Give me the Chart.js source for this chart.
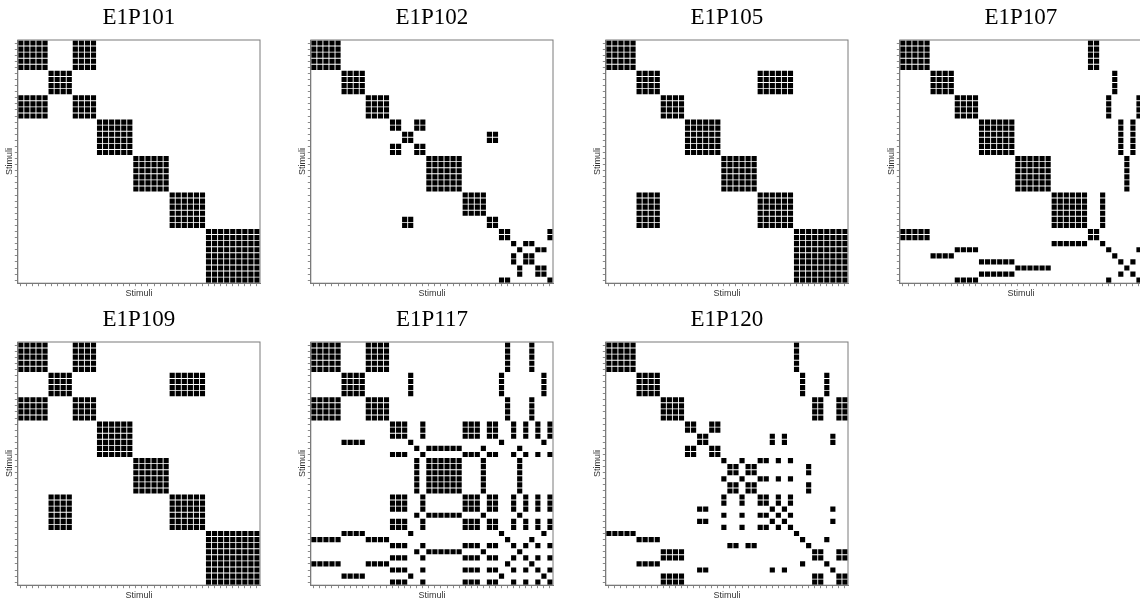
<!DOCTYPE html>
<html>
<head>
<meta charset="utf-8">
<script src="https://cdn.jsdelivr.net/npm/chart.js@4.4.1/dist/chart.umd.min.js"></script>
<style>
  html, body { margin: 0; padding: 0; background: #fff; overflow: hidden; width: 1140px; height: 598px; }
  .panel { position: absolute; }
</style>
</head>
<body>
<script>
// Stimuli (40 per panel), indexed 0..39
const stimuli = Array.from({length: 40}, (_, i) => i);

// Panel titles
const panelTitles = ['E1P101', 'E1P102', 'E1P105', 'E1P107', 'E1P109', 'E1P117', 'E1P120'];

// Group membership of each stimulus (cell i,j is filled when both stimuli share a group)
const E1P101 = [0,0,0,0,0, 1,1,1,1, 0,0,0,0, 2,2,2,2,2,2, 3,3,3,3,3,3, 4,4,4,4,4,4, 5,5,5,5,5,5,5,5,5];
const E1P102 = [0,0,0,0,0, 1,1,1,1, 2,2,2,2, 3,3, 4,4, 3,3, 5,5,5,5,5,5, 6,6,6,6, 4,4, 7,7, 8, 9, 8,8, 9,9, 7];
const E1P105 = [0,0,0,0,0, 1,1,1,1, 2,2,2,2, 3,3,3,3,3,3, 4,4,4,4,4,4, 1,1,1,1,1,1, 5,5,5,5,5,5,5,5,5];
const E1P107 = [0,0,0,0,0, 1,1,1,1, 2,2,2,2, 3,3,3,3,3,3, 4,4,4,4,4,4, 5,5,5,5,5,5, 0,0, 5, 2, 1, 3, 4, 3, 2];
const E1P109 = [0,0,0,0,0, 1,1,1,1, 0,0,0,0, 2,2,2,2,2,2, 3,3,3,3,3,3, 1,1,1,1,1,1, 4,4,4,4,4,4,4,4,4];
const E1P117 = [0,0,0,0,0, 1,1,1,1, 0,0,0,0, 2,2,2, 1, 3, 2, 3,3,3,3,3,3, 2,2,2, 3, 2,2, 1, 0, 2, 3, 2, 0, 2, 1, 2];
const E1P120 = [0,0,0,0,0, 1,1,1,1, 2,2,2,2, 3,3, 4,4, 3,3, 5, 6,6, 5, 6,6, 5,5, 4, 5, 4, 5, 0, 1, 6, 2,2, 1, 4, 2,2];

const panelGroups = [E1P101, E1P102, E1P105, E1P107, E1P109, E1P117, E1P120];

// Layout (canvas placement)
const canvasLeft = [2, 295, 590, 884, 2, 295, 590];
const canvasTop  = [0, 0, 0, 0, 302, 302, 302];
const CW = 262, CH = 299;

const frame = {
  id: 'frame',
  afterDatasetsDraw(chart) {
    const {ctx, chartArea: a} = chart;
    ctx.save();
    ctx.strokeStyle = '#7a7a7a';
    ctx.lineWidth = 1;
    ctx.strokeRect(a.left, a.top, a.right - a.left, a.bottom - a.top);
    ctx.restore();
  }
};

function buildPoints(groups) {
  const pts = [];
  stimuli.forEach(i => {
    stimuli.forEach(j => {
      if (groups[i] === groups[j]) pts.push({x: j, y: i});
    });
  });
  return pts;
}

function axis(reverse) {
  return {
    type: 'linear',
    min: -0.5, max: 39.5,
    reverse: reverse,
    afterBuildTicks: s => { s.ticks = stimuli.map(v => ({value: v})); },
    ticks: { display: false, stepSize: 1 },
    grid: { drawOnChartArea: false, drawTicks: true, tickLength: 3, color: '#8a8a8a', tickColor: '#8a8a8a' },
    border: { display: true, color: '#7a7a7a', width: 1 },
    title: { display: true, text: 'Stimuli', color: '#333', font: { family: 'Liberation Sans', size: 9 }, padding: { top: 2, bottom: 0 } }
  };
}

panelTitles.forEach((t, k) => {
  const div = document.createElement('div');
  div.className = 'panel';
  div.style.left = canvasLeft[k] + 'px';
  div.style.top = canvasTop[k] + 'px';
  div.style.width = CW + 'px';
  div.style.height = CH + 'px';
  const cv = document.createElement('canvas');
  cv.width = CW; cv.height = CH;
  cv.style.width = CW + 'px'; cv.style.height = CH + 'px';
  div.appendChild(cv);
  document.body.appendChild(div);

  new Chart(cv, {
    type: 'scatter',
    data: {
      datasets: [{
        data: buildPoints(panelGroups[k]),
        pointStyle: 'rect',
        backgroundColor: '#000',
        borderWidth: 0,
        pointRadius: (ctx) => {
          const a = ctx.chart.chartArea;
          if (!a) return 3.5;
          const cell = (a.right - a.left) / 40;
          return (cell - 0.9) / (2 * Math.SQRT1_2);
        }
      }]
    },
    options: {
      responsive: false,
      animation: false,
      devicePixelRatio: 1,
      events: [],
      layout: { padding: { left: 0, right: 2, top: 0, bottom: 0 } },
      plugins: {
        legend: { display: false },
        tooltip: { enabled: false },
        title: { display: true, fullSize: false, text: t, color: '#000', font: { family: 'Liberation Serif', size: 23, weight: 'normal' }, padding: { top: 4, bottom: 8.4 } }
      },
      scales: { x: axis(false), y: axis(true) }
    },
    plugins: [frame]
  });
});
</script>
</body>
</html>
